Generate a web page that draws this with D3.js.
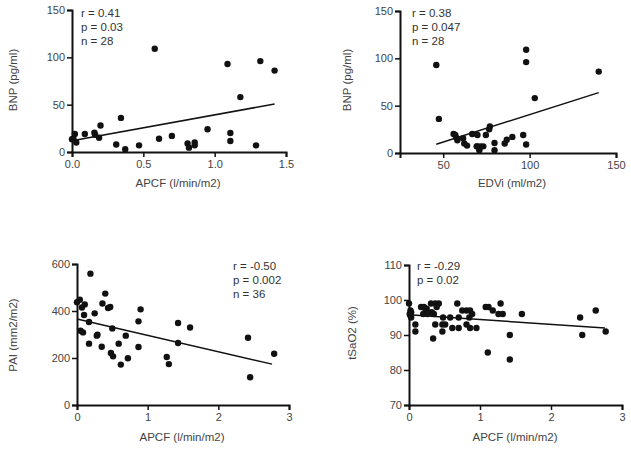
<!DOCTYPE html>
<html>
<head>
<meta charset="utf-8">
<script src="https://cdn.jsdelivr.net/npm/d3@7"></script>
<style>
  body { margin: 0; background: #fff; }
  svg { font-family: "Liberation Sans", Arial, sans-serif; }
</style>
</head>
<body>
<div id="chart"></div>
<script>
// panel 1: BNP vs APCF
var p1X = [0, 0.02, 0.03, 0.01, 0.09, 0.157, 0.162, 0.19, 0.2, 0.31, 0.343, 0.373, 0.47, 0.58, 0.61, 0.70, 0.81, 0.82, 0.86, 0.86, 0.95, 1.09, 1.11, 1.11, 1.18, 1.29, 1.32, 1.42];
var p1Y = [13.4, 19, 10, 14, 19, 20.4, 18.3, 15, 28, 8, 36, 3, 7, 109, 14, 17, 9, 4.6, 10, 7, 24, 93, 20, 11.6, 58, 7, 96, 86];
var p1Fit = [[0, 12], [1.42, 50.7]];
var p1Stats = ['r = 0.41', 'p = 0.03', 'n = 28'];

// panel 2: BNP vs EDVi
var p2X = [46, 47.5, 56, 57, 57.7, 58.2, 61.5, 62.2, 63.8, 66.8, 69.8, 69.6, 70.9, 69.4, 71.5, 73.2, 70.9, 74.7, 77, 76.6, 79.7, 79.7, 85.6, 86.8, 90, 96.3, 98, 98, 98, 103, 140];
var p2Y = [93, 36, 20, 19, 16, 13.5, 15.6, 10, 7.8, 20, 19, 7, 4.6, 7, 7, 7, 3, 19, 28, 25, 10.6, 3, 10, 14, 17, 19, 9, 109, 96, 58, 86];
var p2Fit = [[46, 9.2], [140, 63.8]];
var p2Stats = ['r = 0.38', 'p = 0.047', 'n = 28'];

// panel 3: PAI vs APCF
var p3X = [0.19, 0, 0.04, 0.07, 0.11, 0.1, 0.05, 0.085, 0.25, 0.17, 0.17, 0.28, 0.29, 0.36, 0.35, 0.4, 0.44, 0.47, 0.5, 0.48, 0.51, 0.59, 0.62, 0.69, 0.72, 0.87, 0.9, 0.87, 1.27, 1.3, 1.43, 1.43, 1.6, 2.42, 2.45, 2.79];
var p3Y = [559, 437, 448, 415, 428, 383, 316, 309, 390, 353, 261, 295, 299, 432, 248, 474, 413, 417, 326, 221, 207, 261, 172, 295, 199, 356, 407, 247, 204, 174, 349, 264, 330, 286, 118, 218];
var p3Fit = [[0, 366], [2.76, 174]];
var p3Stats = ['r = -0.50', 'p = 0.002', 'n = 36'];

// panel 4: tSaO2 vs APCF
var p4X = [0, 0.02, 0.03, 0.02, 0.03, 0.01, 0.09, 0.09, 0.17, 0.21, 0.235, 0.25, 0.31, 0.37, 0.42, 0.39, 0.2, 0.26, 0.32, 0.35, 0.34, 0.37, 0.48, 0.47, 0.51, 0.47, 0.58, 0.61, 0.68, 0.7, 0.7, 0.75, 0.81, 0.86, 0.81, 0.86, 0.85, 0.89, 0.95, 1.08, 1.12, 1.18, 1.11, 1.29, 1.26, 1.32, 1.42, 1.42, 1.59, 2.41, 2.44, 2.63, 2.77];
var p4Y = [99, 97, 96.5, 95.6, 95, 96, 93, 91, 98, 98, 97, 97.5, 99, 99, 99, 98, 96, 96, 96.5, 96, 89, 93, 95, 93, 93, 91, 95, 92, 99, 95, 92, 97, 97, 97, 93, 92, 95, 96, 92, 98, 98, 97, 85, 99, 96, 96, 90, 83, 96, 95, 90, 97, 91];
var p4Fit = [[0, 95.8], [2.76, 92]];
var p4Stats = ['r = -0.29', 'p = 0.02'];

var svg = d3.select('#chart').append('svg')
    .attr('width', 631)
    .attr('height', 449);

// layout of each panel (pixels)
var panels = [
  { xs: p1X, ys: p1Y, fit: p1Fit, stats: p1Stats,
    xDom: [0, 1.5], xRange: [72, 286], xTicks: [0, 0.5, 1, 1.5], xFmt: d3.format('.1f'),
    yDom: [0, 150], yRange: [152, 10], yTicks: [0, 50, 100, 150],
    xTitle: 'APCF (l/min/m2)', yTitle: 'BNP (pg/ml)',
    statX: 81, statY: 17, xTitleX: 178, xTitleY: 187, yTitleX: 17, yTitleY: 80 },
  { xs: p2X, ys: p2Y, fit: p2Fit, stats: p2Stats,
    xDom: [25, 150], xRange: [400, 616], xTicks: [50, 100, 150], xFmt: d3.format('d'),
    yDom: [0, 150], yRange: [153, 11], yTicks: [0, 50, 100, 150],
    xTitle: 'EDVi (ml/m2)', yTitle: 'BNP (pg/ml)',
    statX: 412, statY: 17, xTitleX: 512, xTitleY: 187, yTitleX: 351, yTitleY: 80 },
  { xs: p3X, ys: p3Y, fit: p3Fit, stats: p3Stats,
    xDom: [0, 3], xRange: [77, 289], xTicks: [0, 1, 2, 3], xFmt: d3.format('d'),
    yDom: [0, 600], yRange: [405, 264], yTicks: [0, 200, 400, 600],
    xTitle: 'APCF (l/min/m2)', yTitle: 'PAI (mm2/m2)',
    statX: 233, statY: 270, xTitleX: 182, xTitleY: 441, yTitleX: 17, yTitleY: 335 },
  { xs: p4X, ys: p4Y, fit: p4Fit, stats: p4Stats,
    xDom: [0, 3], xRange: [409, 622], xTicks: [0, 1, 2, 3], xFmt: d3.format('d'),
    yDom: [70, 110], yRange: [405, 265], yTicks: [70, 80, 90, 100, 110],
    xTitle: 'APCF (l/min/m2)', yTitle: 'tSaO2 (%)',
    statX: 417, statY: 270, xTitleX: 515, xTitleY: 441, yTitleX: 356, yTitleY: 333 }
];

panels.forEach(function(p) {
  var x = d3.scaleLinear().domain(p.xDom).range(p.xRange);
  var y = d3.scaleLinear().domain(p.yDom).range(p.yRange);
  var g = svg.append('g');

  var xAxis = d3.axisBottom(x).tickValues(p.xTicks).tickFormat(p.xFmt).tickSizeOuter(0).tickSize(5).tickPadding(3);
  var yAxis = d3.axisLeft(y).tickValues(p.yTicks).tickSizeOuter(0).tickSize(5).tickPadding(2);

  var gx = g.append('g')
      .attr('transform', 'translate(0,' + p.yRange[0] + ')')
      .call(xAxis);
  var gy = g.append('g')
      .attr('transform', 'translate(' + p.xRange[0] + ',0)')
      .call(yAxis);

  [gx, gy].forEach(function(a) {
    a.select('.domain').attr('stroke', '#111').attr('stroke-width', 2);
    a.selectAll('.tick line').attr('stroke', '#111').attr('stroke-width', 1.5);
    a.selectAll('.tick text').attr('fill', '#444').style('font-size', '11px');
  });

  // fit line
  g.append('line')
      .attr('x1', x(p.fit[0][0])).attr('y1', y(p.fit[0][1]))
      .attr('x2', x(p.fit[1][0])).attr('y2', y(p.fit[1][1]))
      .attr('stroke', '#111')
      .attr('stroke-width', 1.5);

  g.selectAll('circle')
      .data(p.xs)
      .enter()
      .append('circle')
      .attr('cx', function(d) { return x(d); })
      .attr('cy', function(d, i) { return y(p.ys[i]); })
      .attr('r', 3.2)
      .attr('fill', '#111');

  g.selectAll('.stat')
      .data(p.stats)
      .enter()
      .append('text')
      .attr('class', 'stat')
      .attr('x', p.statX)
      .attr('y', function(d, i) { return p.statY + i * 14; })
      .attr('fill', '#333')
      .style('font-size', '11.5px')
      .text(function(d) { return d; });

  g.append('text')
      .attr('x', p.xTitleX)
      .attr('y', p.xTitleY)
      .attr('text-anchor', 'middle')
      .attr('fill', '#444')
      .style('font-size', '11.5px')
      .text(p.xTitle);

  g.append('text')
      .attr('transform', 'translate(' + p.yTitleX + ',' + p.yTitleY + ') rotate(-90)')
      .attr('text-anchor', 'middle')
      .attr('fill', '#444')
      .style('font-size', '11.5px')
      .text(p.yTitle);
});
</script>
</body>
</html>
